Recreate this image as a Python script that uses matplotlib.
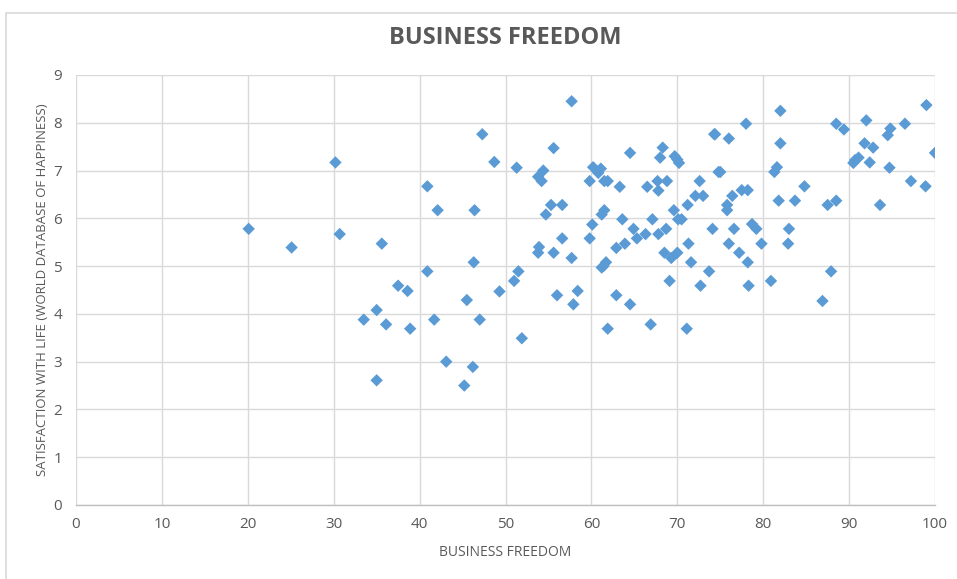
import matplotlib
matplotlib.use("Agg")
import matplotlib.pyplot as plt
from matplotlib.patches import Rectangle
from matplotlib import font_manager

business_freedom = [
    30.2, 40.9, 42.1, 46.4, 20.1, 25.1, 30.7, 35.6, 46.3, 40.9, 37.5, 38.6, 45.5, 47.3,
    35.0, 33.5, 36.1, 38.9, 41.7, 47.0, 43.1, 46.2, 45.2, 35.0,
    57.7, 74.3, 55.6, 64.5, 68.3, 68.0, 69.7, 70.0, 70.2, 48.7, 51.3, 54.4, 53.8, 54.2,
    60.2, 61.1, 60.8, 59.8, 61.5, 61.9, 63.3, 66.5, 67.7, 68.8, 67.8, 72.6, 72.1, 73.0,
    71.2, 74.8, 55.3, 56.6, 54.7, 61.5, 61.2, 69.6, 70.1, 70.5, 67.1, 63.6, 60.1, 74.1,
    64.9, 65.3, 66.3, 67.8, 68.7, 59.8, 56.6, 53.9, 53.8, 55.6, 57.7, 62.9, 63.9, 68.5,
    69.3, 70.0, 71.3, 71.6, 61.7, 61.4, 61.2, 51.5, 51.0, 49.3, 56.0, 58.4, 62.9, 69.1,
    72.7, 73.7, 57.9, 64.5, 51.9, 61.9, 66.9, 71.1,
    99.0, 82.0, 78.0, 88.5, 89.4, 92.0, 96.5, 94.8, 94.5, 74.4, 76.0, 82.0, 91.8, 92.8,
    100.0, 91.1, 90.7, 90.5, 92.4, 94.7, 81.6, 81.3, 75.0, 97.2, 98.9, 84.8, 76.4, 77.5,
    78.2, 75.8, 75.8, 81.8, 83.7, 87.5, 88.5, 93.6, 76.6, 78.7, 79.2, 83.0, 76.0, 79.8,
    82.9, 77.2, 78.2, 87.9, 78.3, 80.9, 86.9,
]
life_satisfaction = [
    7.17, 6.67, 6.17, 6.17, 5.78, 5.39, 5.67, 5.47, 5.08, 4.89, 4.59, 4.48, 4.29, 7.76,
    4.08, 3.88, 3.78, 3.69, 3.88, 3.88, 3.00, 2.89, 2.50, 2.61,
    8.45, 7.76, 7.47, 7.37, 7.48, 7.27, 7.30, 7.23, 7.16, 7.18, 7.06, 7.00, 6.87, 6.78,
    7.07, 7.04, 6.95, 6.78, 6.78, 6.78, 6.66, 6.66, 6.78, 6.78, 6.58, 6.78, 6.47, 6.47,
    6.28, 6.97, 6.28, 6.28, 6.08, 6.17, 6.08, 6.17, 5.98, 5.98, 5.98, 5.98, 5.87, 5.78,
    5.78, 5.58, 5.67, 5.67, 5.78, 5.58, 5.58, 5.40, 5.28, 5.28, 5.17, 5.38, 5.47, 5.28,
    5.17, 5.28, 5.47, 5.08, 5.08, 5.00, 4.97, 4.89, 4.69, 4.47, 4.39, 4.48, 4.39, 4.69,
    4.59, 4.89, 4.20, 4.20, 3.49, 3.69, 3.78, 3.69,
    8.37, 8.25, 7.98, 7.98, 7.86, 8.05, 7.98, 7.88, 7.74, 7.76, 7.67, 7.57, 7.57, 7.48,
    7.37, 7.27, 7.22, 7.16, 7.17, 7.06, 7.07, 6.97, 6.97, 6.78, 6.67, 6.67, 6.47, 6.59,
    6.59, 6.28, 6.17, 6.37, 6.37, 6.28, 6.37, 6.28, 5.78, 5.88, 5.78, 5.78, 5.47, 5.47,
    5.47, 5.28, 5.08, 4.89, 4.59, 4.69, 4.27,
]

x_ticks = [0, 10, 20, 30, 40, 50, 60, 70, 80, 90, 100]
y_ticks = [0, 1, 2, 3, 4, 5, 6, 7, 8, 9]

title = "BUSINESS FREEDOM"
x_label = "BUSINESS FREEDOM"
y_label = "SATISFACTION WITH LIFE (WORLD DATABASE OF HAPPINESS)"

names = {f.name for f in font_manager.fontManager.ttflist}
fam = [f for f in ["Liberation Sans Narrow", "Open Sans", "DejaVu Sans"] if f in names]
plt.rcParams["font.family"] = fam

text_gray = "#595959"
grid_gray = "#D9D9D9"
blue = "#5B9BD5"

fig = plt.figure(figsize=(9.57, 5.79), dpi=100)
fig.patch.set_facecolor("white")

# chart border
fig.add_artist(Rectangle((6 / 957, -0.2), 1.2, 1 - 13 / 579 + 0.2,
                         transform=fig.transFigure, fill=False,
                         edgecolor=grid_gray, linewidth=1.2))

ax = fig.add_axes([76 / 957, 1 - 505 / 579, (935 - 76) / 957, (505 - 75) / 579])
ax.scatter(business_freedom, life_satisfaction, marker="D", s=40,
           color=blue, edgecolors="none", zorder=3)

ax.set_xlim(0, 100)
ax.set_ylim(0, 9)
ax.set_xticks(x_ticks)
ax.set_yticks(y_ticks)
ax.grid(True, color=grid_gray, linewidth=1)
ax.set_axisbelow(True)
for s in ["top", "right", "left"]:
    ax.spines[s].set_visible(False)
ax.spines["bottom"].set_color("#BFBFBF")
ax.spines["bottom"].set_linewidth(1)
ax.tick_params(axis="both", length=0, labelsize=11, colors=text_gray)
ax.tick_params(axis="x", pad=9)
ax.tick_params(axis="y", pad=10)

ax.set_title(title, fontsize=17, fontweight="bold", color=text_gray, pad=22)
ax.set_xlabel(x_label, fontsize=10, color=text_gray, labelpad=9)
ax.set_ylabel(y_label, fontsize=9.5, color=text_gray, labelpad=3)

fig.savefig("out.png", dpi=100)
